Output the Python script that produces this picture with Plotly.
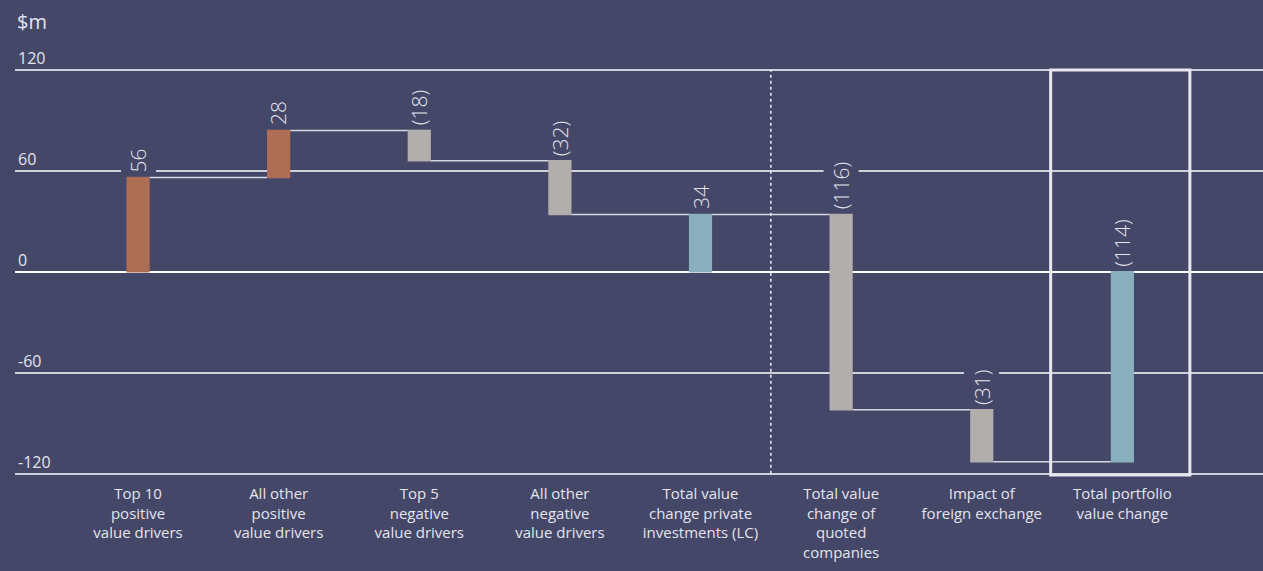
import plotly.graph_objects as go

categories = [
    "Top 10<br>positive<br>value drivers",
    "All other<br>positive<br>value drivers",
    "Top 5<br>negative<br>value drivers",
    "All other<br>negative<br>value drivers",
    "Total value<br>change private<br>investments (LC)",
    "Total value<br>change of<br>quoted<br>companies",
    "Impact of<br>foreign exchange",
    "Total portfolio<br>value change",
]
values = [56, 28, -18, -32, 0, -116, -31, 0]
measures = ["relative", "relative", "relative", "relative", "total", "relative", "relative", "total"]
value_labels = ["56", "28", "(18)", "(32)", "34", "(116)", "(31)", "(114)"]
y_ticks = [-120, -60, 0, 60, 120]

BG = "#444768"
POS = "#ae6e55"
NEG = "#b2aeab"
TOT = "#89afbd"
TXT = "#e4e4ec"

fig = go.Figure()
fig.add_trace(go.Waterfall(
    x=categories,
    y=values,
    measure=measures,
    width=[0.165] * len(categories),
    increasing=dict(marker=dict(color=POS)),
    decreasing=dict(marker=dict(color=NEG)),
    totals=dict(marker=dict(color=TOT)),
    connector=dict(mode="between", line=dict(color="#d8d8e2", width=1.5)),
    hoverinfo="skip",
    showlegend=False,
))

# compute bar tops for labels
running = 0
tops = []
for v, m in zip(values, measures):
    if m == "total":
        start, end = 0, running
    else:
        start, end = running, running + v
        running = end
    tops.append(max(start, end))

for cat, top, lab in zip(categories, tops, value_labels):
    fig.add_annotation(
        x=cat, y=top, xref="x", yref="y",
        text=lab, textangle=-90, showarrow=False,
        xanchor="center", yanchor="bottom", yshift=1,
        bgcolor=BG, borderpad=3,
        font=dict(family="Open Sans", size=21, color=TXT, weight=300),
    )

# separator between private and quoted
fig.add_shape(type="line", xref="x", yref="y", x0=4.5, x1=4.5, y0=-120, y1=120,
              line=dict(color="#f0f0f5", width=1.5, dash="3px,3px"), layer="above")
# highlight box on total
fig.add_shape(type="rect", xref="x", yref="y", x0=6.49, x1=7.48, y0=-120.8, y1=120,
              line=dict(color="#e8e8f0", width=3), fillcolor="rgba(0,0,0,0)", layer="above")

fig.add_annotation(x=0, y=1, xref="paper", yref="paper", yshift=5, xshift=0,
                   text="$m", showarrow=False, xanchor="left", yanchor="top",
                   font=dict(family="Open Sans", size=20, color=TXT))

fig.update_layout(
    width=1263, height=571,
    paper_bgcolor=BG, plot_bgcolor=BG,
    margin=dict(l=15, r=0, t=11, b=94),
    font=dict(family="Open Sans", color=TXT),
    xaxis=dict(
        range=[-0.875, 8.0], showgrid=False, zeroline=False, showline=False,
        ticks="", ticklabelstandoff=6,
        tickfont=dict(size=15, color=TXT, family="Open Sans"),
    ),
    yaxis=dict(
        range=[-122, 155], tickvals=y_ticks, ticktext=[str(t) for t in y_ticks],
        ticklabelposition="inside top", showgrid=True, gridcolor="#d0d0da", gridwidth=1.5,
        zeroline=True, zerolinecolor="#ffffff", zerolinewidth=2, showline=False,
        tickfont=dict(size=16, color=TXT, family="Open Sans"),
    ),
)

fig.write_html("out.html")
